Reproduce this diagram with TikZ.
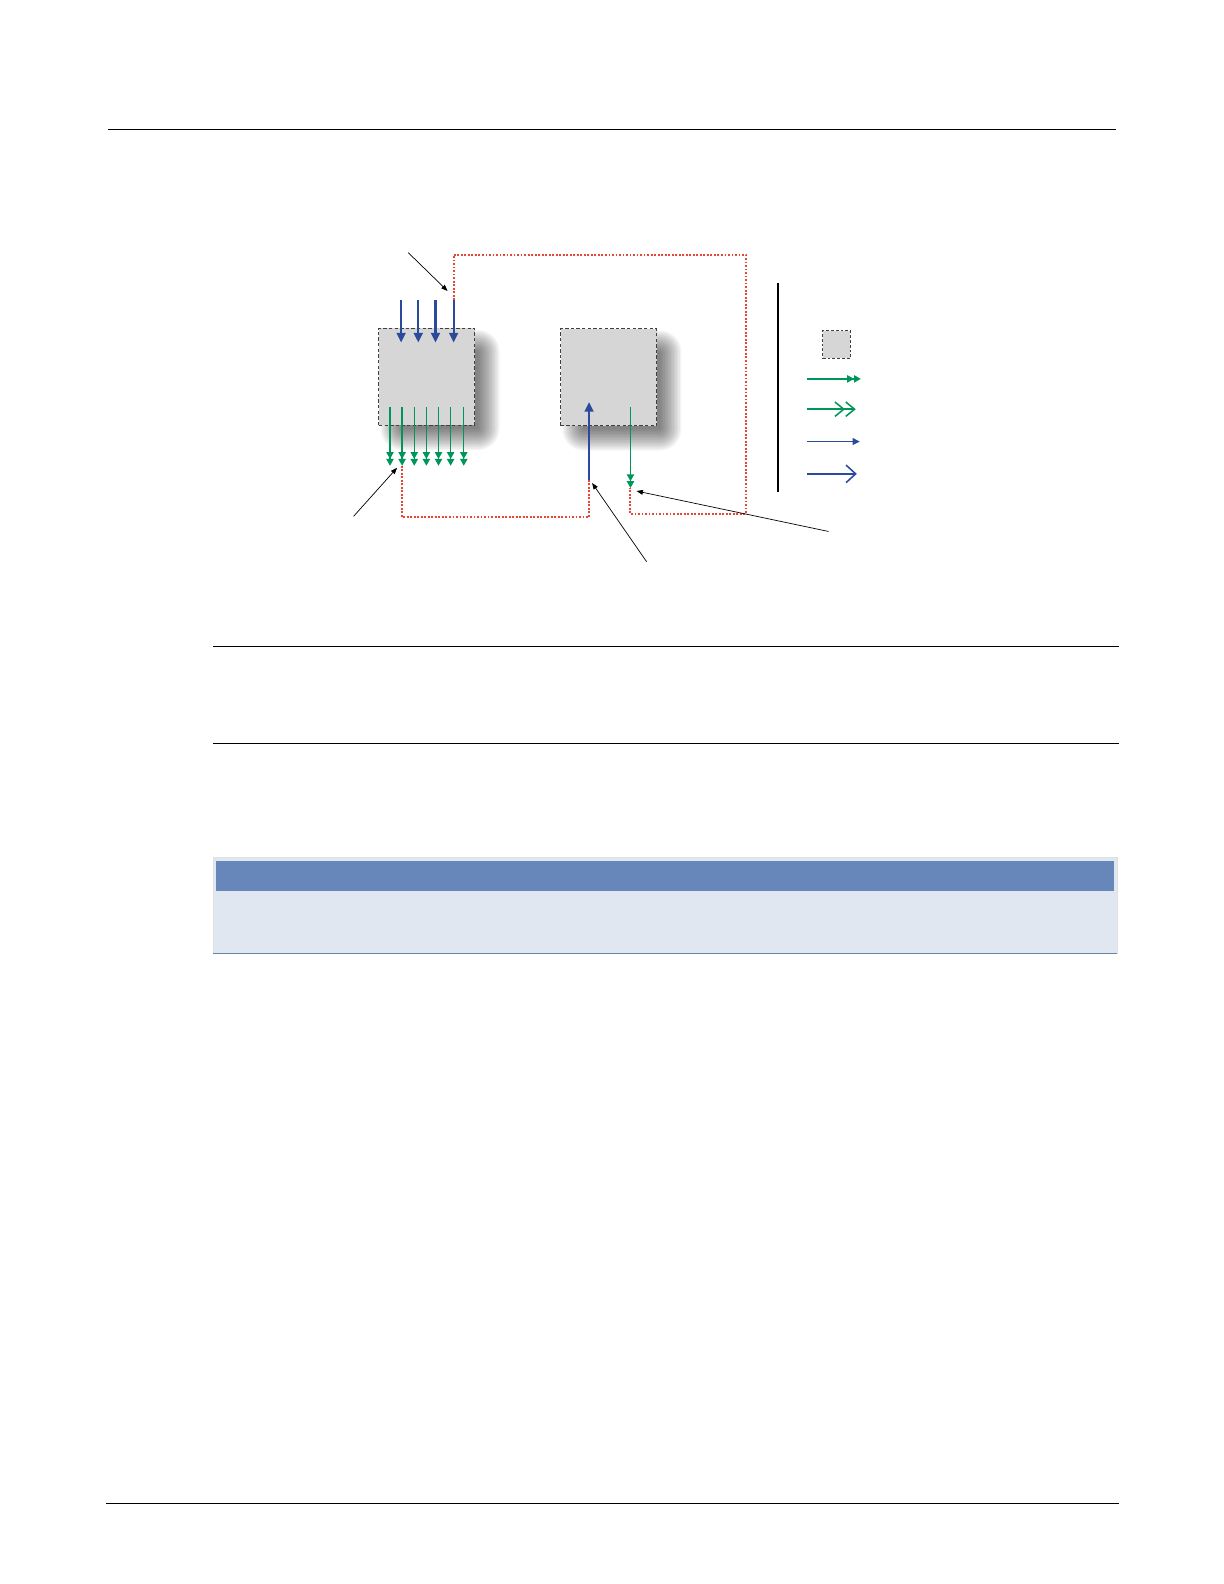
\documentclass[tikz,border=0pt]{standalone}
\usetikzlibrary{arrows.meta,backgrounds}
\definecolor{flowblue}{RGB}{42,75,155}
\definecolor{flowgreen}{RGB}{0,150,90}
\definecolor{linkred}{RGB}{232,70,55}
\definecolor{unitgray}{RGB}{214,214,214}
\definecolor{headblue}{RGB}{103,135,187}
\definecolor{bodyblue}{RGB}{225,231,241}
\definecolor{edgeblue}{RGB}{95,136,168}
\tikzset{
  unitbox/.style={draw=black!75, dash pattern=on 2.4pt off 1.6pt, line width=0.7pt, fill=unitgray,
    inner sep=0pt, minimum width=24mm, minimum height=24.25mm},
  keybox/.style={draw=black!75, dash pattern=on 2pt off 1.4pt, line width=0.6pt, fill=unitgray,
    inner sep=0pt, minimum size=6.9mm},
  busin/.style={draw=flowblue, line width=1.6pt, -{Triangle[length=2.4mm,width=2.2mm]}},
  busout/.style={draw=flowgreen, line width=0.9pt, -{Triangle[length=1.7mm,width=1.8mm] Triangle[length=1.7mm,width=1.8mm]}},
  thinblue/.style={draw=flowblue, line width=1.1pt, -{Triangle[length=1.8mm,width=1.7mm]}},
  openblue/.style={draw=flowblue, line width=1.1pt, -{Straight Barb[length=2.4mm,width=4.4mm]}},
  opengreen/.style={draw=flowgreen, line width=1.1pt, -{Straight Barb[length=2.2mm,width=3.6mm] Straight Barb[length=2.2mm,width=3.6mm]}},
  link/.style={draw=linkred, line width=1.4pt, dash pattern=on 1.3pt off 1.2pt},
  callout/.style={draw=black, line width=0.5pt, -{Triangle[length=1.6mm,width=1.2mm]}},
  rule/.style={draw=black, line width=0.8pt}
}
% soft shadow below and right of a unit
\newcommand\unitshadow[1]{%
  \foreach \r in {-10,-8.5,...,12}
    \fill [black, opacity=0.045, rounded corners=(\r+11)*0.25mm]
      ([shift={(13-\r,13+\r)}]#1.south west) rectangle ([shift={(13+\r,13-\r)}]#1.north east);
}
\begin{document}
\begin{tikzpicture}[x=0.2526mm, y=-0.2526mm]
\useasboundingbox (0,0) rectangle (306mm,-396mm);
% page rules
\draw [rule] (107,128) -- (1105,128);
\draw [rule] (211,640) -- (1108,640);
\draw [rule] (211,736) -- (1108,736);
\draw [rule, line width=1.3pt] (105,1488) -- (1108,1488);
% the two units
\node [unitbox] (src) at (422.5,373) {};
\node [unitbox] (dst) at (602.5,373.5) {};
\begin{scope}[on background layer]
  \unitshadow{src}
  \unitshadow{dst}
\end{scope}
% inputs into the first unit
\foreach \x [count=\i] in {397,414,431,449} {
  \coordinate (in\i) at (\x,297);
  \draw [busin] (in\i) -- (\x,339);
}
% outputs of the first unit
\foreach \x [count=\i] in {386,398,410,422,434,446,459} {
  \coordinate (out\i) at (\x,461);
  \draw [busout] (\x,403) -- (out\i);
}
% second unit
\coordinate (up) at (583,475);
\coordinate (dn) at (624,483);
\draw [busin] (up) -- (583,398);
\draw [busout] (624,403) -- (dn);
% dotted links
\draw [link] (in4) -- (449,252) -- (738,252) -- (738,509) -- (624,509) -- (dn);
\draw [link] (out2) -- (398,512) -- (583,512) -- (up);
% callouts
\coordinate (ca) at (404,250);
\coordinate (cb) at (350,511);
\coordinate (cc) at (640,556);
\coordinate (cd) at (820,526);
\draw [callout] (ca) -- (443,288);
\draw [callout] (cb) -- (393,463);
\draw [callout] (cc) -- (586,478);
\draw [callout] (cd) -- (630,486);
% legend
\draw [draw=black, line width=1.3pt] (770,280) -- (770,487);
\node [keybox] (key) at (828,341) {};
\draw [busout] (799,375) -- (852,375);
\draw [opengreen] (799,405) -- (847,405);
\draw [thinblue] (799,437) -- (851,437);
\draw [openblue] (799,469) -- (848,469);
% table
\draw [draw=black!12, fill=bodyblue, line width=0.6pt] (211,849) rectangle (1106,944);
\fill [headblue] (214,852) rectangle (1103,882);
\draw [draw=edgeblue, line width=0.8pt] (211,944) -- (1106,944);
\end{tikzpicture}
\end{document}
